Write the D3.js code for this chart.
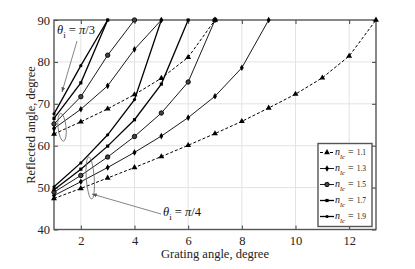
<!DOCTYPE html>
<html>
<head>
<meta charset="utf-8">
<script src="https://cdn.jsdelivr.net/npm/d3@7"></script>
<style>
  body { margin: 0; background: #fff; }
  svg { display: block; font-family: "Liberation Serif", "DejaVu Serif", serif; }
</style>
</head>
<body>
<svg id="chart" width="415" height="269"></svg>
<script>
// grating angle (x) and reflected angle (y)
let grating = [1, 2, 3, 4, 5, 6, 7, 8, 9, 10, 11, 12, 13];

// theta_i = pi/4
let q4_n11 = [47.4, 49.8, 52.3, 54.8, 57.4, 60.1, 62.9, 65.8, 69.0, 72.3, 76.2, 81.4, 90];
let q4_n13 = [48.1, 51.4, 54.8, 58.4, 62.3, 66.7, 71.8, 78.6, 90];
let q4_n15 = [48.9, 52.9, 57.3, 62.2, 67.8, 75.2, 90];
let q4_n17 = [49.5, 54.4, 59.9, 66.2, 74.7, 90];
let q4_n19 = [50.2, 55.9, 62.6, 71.0, 90];

// theta_i = pi/3
let q3_n11 = [62.8, 65.7, 68.8, 72.2, 76.1, 81.1, 90];
let q3_n13 = [64.1, 68.7, 74.3, 83.0, 90];
let q3_n15 = [65.2, 71.7, 81.6, 90];
let q3_n17 = [66.5, 75.0, 90];
let q3_n19 = [67.6, 79.1, 90];

let nLabels = ["1.1", "1.3", "1.5", "1.7", "1.9"];
let xTicks = [2, 4, 6, 8, 10, 12];
let yTicks = [40, 50, 60, 70, 80, 90];

// style per index of refraction
let styles = [
  {shape: "tri",  dash: "3,2", width: 1},
  {shape: "dia",  dash: null,  width: 0.9},
  {shape: "circ", dash: null,  width: 0.9},
  {shape: "sq",   dash: null,  width: 1.3},
  {shape: "dot",  dash: null,  width: 1.3}
];

let series = [
  {v: q4_n11, s: 0}, {v: q4_n13, s: 1}, {v: q4_n15, s: 2}, {v: q4_n17, s: 3}, {v: q4_n19, s: 4},
  {v: q3_n11, s: 0}, {v: q3_n13, s: 1}, {v: q3_n15, s: 2}, {v: q3_n17, s: 3}, {v: q3_n19, s: 4}
];

let margin = {top: 20, right: 39, bottom: 39.5, left: 54};
let width = 415 - margin.left - margin.right;
let height = 269 - margin.top - margin.bottom;

let svg = d3.select("#chart");
let g = svg.append("g").attr("transform", `translate(${margin.left},${margin.top})`);

let x = d3.scaleLinear().domain([1, 13]).range([0, width]);
let y = d3.scaleLinear().domain([40, 90]).range([height, 0]);

// grid
g.append("g").selectAll("line").data(xTicks).enter().append("line")
  .attr("x1", d => x(d)).attr("x2", d => x(d)).attr("y1", 0).attr("y2", height)
  .attr("stroke", "#e3e3e3").attr("stroke-width", 1);
g.append("g").selectAll("line").data(yTicks.slice(1, -1)).enter().append("line")
  .attr("y1", d => y(d)).attr("y2", d => y(d)).attr("x1", 0).attr("x2", width)
  .attr("stroke", "#e3e3e3").attr("stroke-width", 1);

// axes, ticks pointing inward
function styleAxis(sel) {
  sel.select(".domain").remove();
  sel.selectAll(".tick line").attr("stroke", "#444").attr("stroke-width", 1);
  sel.selectAll(".tick text").attr("fill", "#222").attr("font-size", 12.5)
    .attr("font-family", "Liberation Serif, serif");
}
g.append("g").attr("transform", `translate(0,${height})`)
  .call(d3.axisBottom(x).tickValues(xTicks).tickSize(-4).tickPadding(6.5)).call(styleAxis);
g.append("g")
  .call(d3.axisTop(x).tickValues(xTicks).tickSize(-4).tickFormat("")).call(styleAxis);
g.append("g")
  .call(d3.axisLeft(y).tickValues(yTicks).tickSize(-4).tickPadding(4)).call(styleAxis);
g.append("g").attr("transform", `translate(${width},0)`)
  .call(d3.axisRight(y).tickValues(yTicks).tickSize(-4).tickFormat("")).call(styleAxis);

// frame
g.append("rect").attr("width", width).attr("height", height)
  .attr("fill", "none").attr("stroke", "#555").attr("stroke-width", 1.4);

// lines
let line = d3.line().x((d, i) => x(grating[i])).y(d => y(d));

function marker(sel, shape) {
  if (shape === "tri") {
    sel.append("path").attr("d", d3.symbol(d3.symbolTriangle, 15)).attr("fill", "#000");
  } else if (shape === "dia") {
    sel.append("path").attr("d", d3.symbol(d3.symbolDiamond, 13)).attr("fill", "#000");
  } else if (shape === "circ") {
    sel.append("circle").attr("r", 2.2).attr("fill", "#444").attr("stroke", "#000").attr("stroke-width", 0.9);
  } else if (shape === "sq") {
    sel.append("path").attr("d", d3.symbol(d3.symbolSquare, 10)).attr("fill", "#000");
  } else {
    sel.append("circle").attr("r", 1.6).attr("fill", "#000");
  }
}

let plot = g.append("g");
series.forEach(function(sr) {
  let st = styles[sr.s];
  plot.append("path").datum(sr.v)
    .attr("d", line).attr("fill", "none").attr("stroke", "#000")
    .attr("stroke-width", st.width).attr("stroke-dasharray", st.dash);
  plot.selectAll(null).data(sr.v).enter().append("g")
    .attr("transform", (d, i) => `translate(${x(grating[i])},${y(d)})`)
    .each(function() { marker(d3.select(this), st.shape); });
});

// annotations
let ann = g.append("g").attr("stroke", "#666").attr("fill", "none").attr("stroke-width", 0.8);
ann.append("ellipse").attr("cx", x(1.3)).attr("cy", y(64.4)).attr("rx", 4).attr("ry", 14)
  .attr("transform", `rotate(-6,${x(1.3)},${y(64.4)})`);
ann.append("ellipse").attr("cx", x(2.35)).attr("cy", y(52.3)).attr("rx", 4).attr("ry", 21)
  .attr("transform", `rotate(-4,${x(2.35)},${y(52.3)})`);

svg.append("defs").append("marker").attr("id", "arr")
  .attr("viewBox", "0 0 10 10").attr("refX", 10).attr("refY", 5)
  .attr("markerWidth", 6).attr("markerHeight", 6).attr("orient", "auto")
  .append("path").attr("d", "M0,1L10,5L0,9z").attr("fill", "#555");

ann.append("line").attr("x1", 77 - margin.left).attr("y1", 41 - margin.top)
  .attr("x2", 62 - margin.left).attr("y2", 92 - margin.top).attr("marker-end", "url(#arr)");
ann.append("line").attr("x1", 161 - margin.left).attr("y1", 214 - margin.top)
  .attr("x2", 92 - margin.left).attr("y2", 194 - margin.top).attr("marker-end", "url(#arr)");

function thetaLabel(px, py, txt) {
  let t = svg.append("text").attr("x", px).attr("y", py).attr("font-size", 12.5).attr("fill", "#111");
  t.append("tspan").attr("font-style", "italic").text("θ");
  t.append("tspan").attr("font-size", 9).attr("dy", 4).text("i");
  t.append("tspan").attr("dy", -4).text(" = ");
  t.append("tspan").attr("font-style", "italic").text("π");
  t.append("tspan").text(txt);
}
thetaLabel(57, 34, "/3");
thetaLabel(163, 216, "/4");

// axis titles
svg.append("text").attr("x", 215).attr("y", 258).attr("text-anchor", "middle")
  .attr("font-size", 12.5).attr("fill", "#222").text("Grating angle, degree");
svg.append("text").attr("transform", "translate(34.5,125) rotate(-90)").attr("text-anchor", "middle")
  .attr("font-size", 12.5).attr("fill", "#222").text("Reflected angle, degree");

// legend
let lg = svg.append("g").attr("transform", "translate(318,143.5)");
lg.append("rect").attr("width", 54).attr("height", 83)
  .attr("fill", "#fff").attr("stroke", "#555").attr("stroke-width", 1.4);
nLabels.forEach(function(lab, i) {
  let st = styles[i];
  let row = lg.append("g").attr("transform", `translate(0,${9 + i * 16})`);
  row.append("line").attr("x1", 2).attr("x2", 16).attr("y1", 0).attr("y2", 0)
    .attr("stroke", "#000").attr("stroke-width", st.width).attr("stroke-dasharray", st.dash);
  marker(row.append("g").attr("transform", "translate(9,0)"), st.shape);
  let t = row.append("text").attr("x", 17).attr("y", 2).attr("font-size", 10).attr("fill", "#111");
  t.append("tspan").attr("font-style", "italic").text("n");
  t.append("tspan").attr("font-style", "italic").attr("font-size", 7).attr("dy", 4).text("lc");
  t.append("tspan").attr("dy", -4).attr("dx", 3).text("=");
  t.append("tspan").attr("font-size", 7.5).attr("dx", 3).text(lab);
});
</script>
</body>
</html>
